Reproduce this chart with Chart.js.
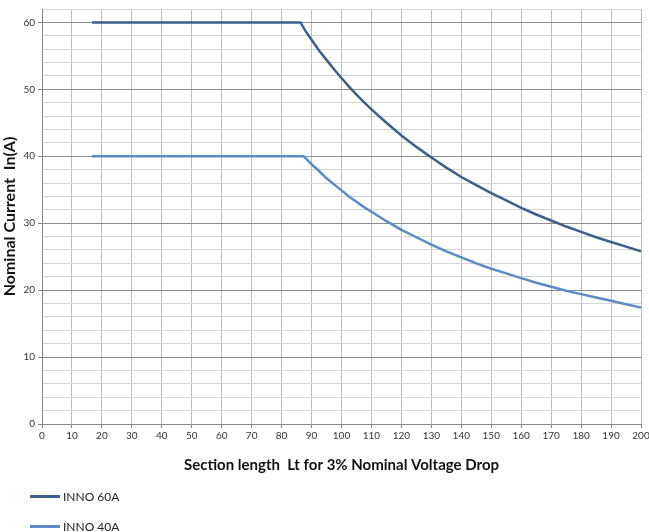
<!DOCTYPE html>
<html>
<head>
<meta charset="utf-8">
<script src="https://cdn.jsdelivr.net/npm/chart.js@4/dist/chart.umd.min.js"></script>
<style>
  html, body { margin: 0; padding: 0; background: #fff; }
  #wrap { position: relative; width: 649px; height: 532px; }
  #legend { position: absolute; left: 30px; top: 481px; font-family: Lato, "Open Sans", sans-serif; font-size: 12px; color: #222; }
  #legend div { height: 30px; display: flex; align-items: center; }
  #legend span.ln { display: inline-block; width: 30px; height: 3px; margin-right: 3px; }
</style>
</head>
<body>
<div id="wrap">
  <canvas id="lineChart" width="649" height="532"></canvas>
  <div id="legend"></div>
</div>
<script>
  'use strict';
  // section length (m) / nominal current (A)
  const lengths60 = [16.7, 86.3, 88, 90, 92.5, 95, 97.5, 100, 102.5, 105, 107.5, 110, 115, 120, 125, 130, 135, 140, 145, 150, 155, 160, 165, 170, 175, 180, 185, 190, 195, 200];
  const current60 = [60, 60, 58.7, 57.4, 55.8, 54.4, 53.0, 51.7, 50.4, 49.2, 48.1, 47.0, 45.0, 43.1, 41.4, 39.8, 38.3, 36.9, 35.7, 34.5, 33.4, 32.3, 31.3, 30.4, 29.5, 28.7, 27.9, 27.2, 26.5, 25.8];
  const lengths40 = [16.7, 87.4, 88.5, 90, 92.5, 95, 97.5, 100, 102.5, 105, 107.5, 110, 115, 120, 125, 130, 135, 140, 145, 150, 155, 160, 165, 170, 175, 180, 185, 190, 195, 200];
  const current40 = [40, 40, 39.5, 38.8, 37.8, 36.7, 35.8, 34.9, 34.0, 33.2, 32.4, 31.7, 30.3, 29.0, 27.9, 26.8, 25.8, 24.9, 24.0, 23.2, 22.5, 21.8, 21.1, 20.5, 19.9, 19.4, 18.9, 18.4, 17.9, 17.4];
  const seriesNames = ["INNO 60A", "INNO 40A"];
  const seriesColors = ["#3d5f8c", "#5b8cc6"];

  const toPoints = (xs, ys) => xs.map((x, i) => ({ x: x, y: ys[i] }));

  const ctx = document.getElementById("lineChart").getContext("2d");
  const chart = new Chart(ctx, {
    type: "line",
    data: {
      datasets: [{
        label: seriesNames[0],
        data: toPoints(lengths60, current60),
        borderColor: seriesColors[0],
        borderWidth: 2.5,
        pointRadius: 0,
        tension: 0
      }, {
        label: seriesNames[1],
        data: toPoints(lengths40, current40),
        borderColor: seriesColors[1],
        borderWidth: 2.5,
        pointRadius: 0,
        tension: 0
      }]
    },
    options: {
      responsive: false,
      animation: false,
      layout: { padding: { top: 8, right: 8, bottom: 54, left: 0 } },
      plugins: { legend: { display: false }, tooltip: { enabled: false } },
      scales: {
        x: {
          type: "linear",
          min: 0,
          max: 200,
          ticks: { stepSize: 10, autoSkip: false, color: "#333", font: { family: "Lato", size: 10 }, padding: 2, maxRotation: 0 },
          grid: { color: "#bdbdbd", tickLength: 4, tickColor: "#888" },
          border: { color: "#888" },
          title: {
            display: true,
            text: "Section length  Lt for 3% Nominal Voltage Drop",
            font: { family: "Lato", size: 15, weight: "bold" },
            color: "#111",
            padding: { top: 6 }
          },
          afterFit: function (scale) {
            scale.height = 54;
            scale.paddingRight = 0;
            scale.paddingLeft = 0;
          }
        },
        y: {
          min: 0,
          max: 62,
          ticks: {
            stepSize: 2,
            autoSkip: false,
            color: "#333",
            font: { family: "Lato", size: 10 },
            callback: function (v) { return v % 10 === 0 ? v : ""; }
          },
          grid: {
            color: function (c) { return c.tick && c.tick.value % 10 === 0 ? "#8c8c8c" : "#d4d4d4"; },
            tickLength: 4,
            tickColor: function (c) { return c.tick && c.tick.value % 10 === 0 ? "#888" : "rgba(0,0,0,0)"; }
          },
          border: { color: "#888" },
          title: {
            display: true,
            text: "Nominal Current  In(A)",
            font: { family: "Lato", size: 16, weight: "bold" },
            color: "#111",
            padding: 0
          },
          afterFit: function (scale) { scale.width = 42; }
        }
      }
    }
  });

  // legend below the chart, one entry per row
  const legend = document.getElementById("legend");
  seriesNames.forEach(function (name, i) {
    const row = document.createElement("div");
    row.innerHTML = '<span class="ln" style="background:' + seriesColors[i] + '"></span>' + name;
    legend.appendChild(row);
  });
</script>
</body>
</html>
